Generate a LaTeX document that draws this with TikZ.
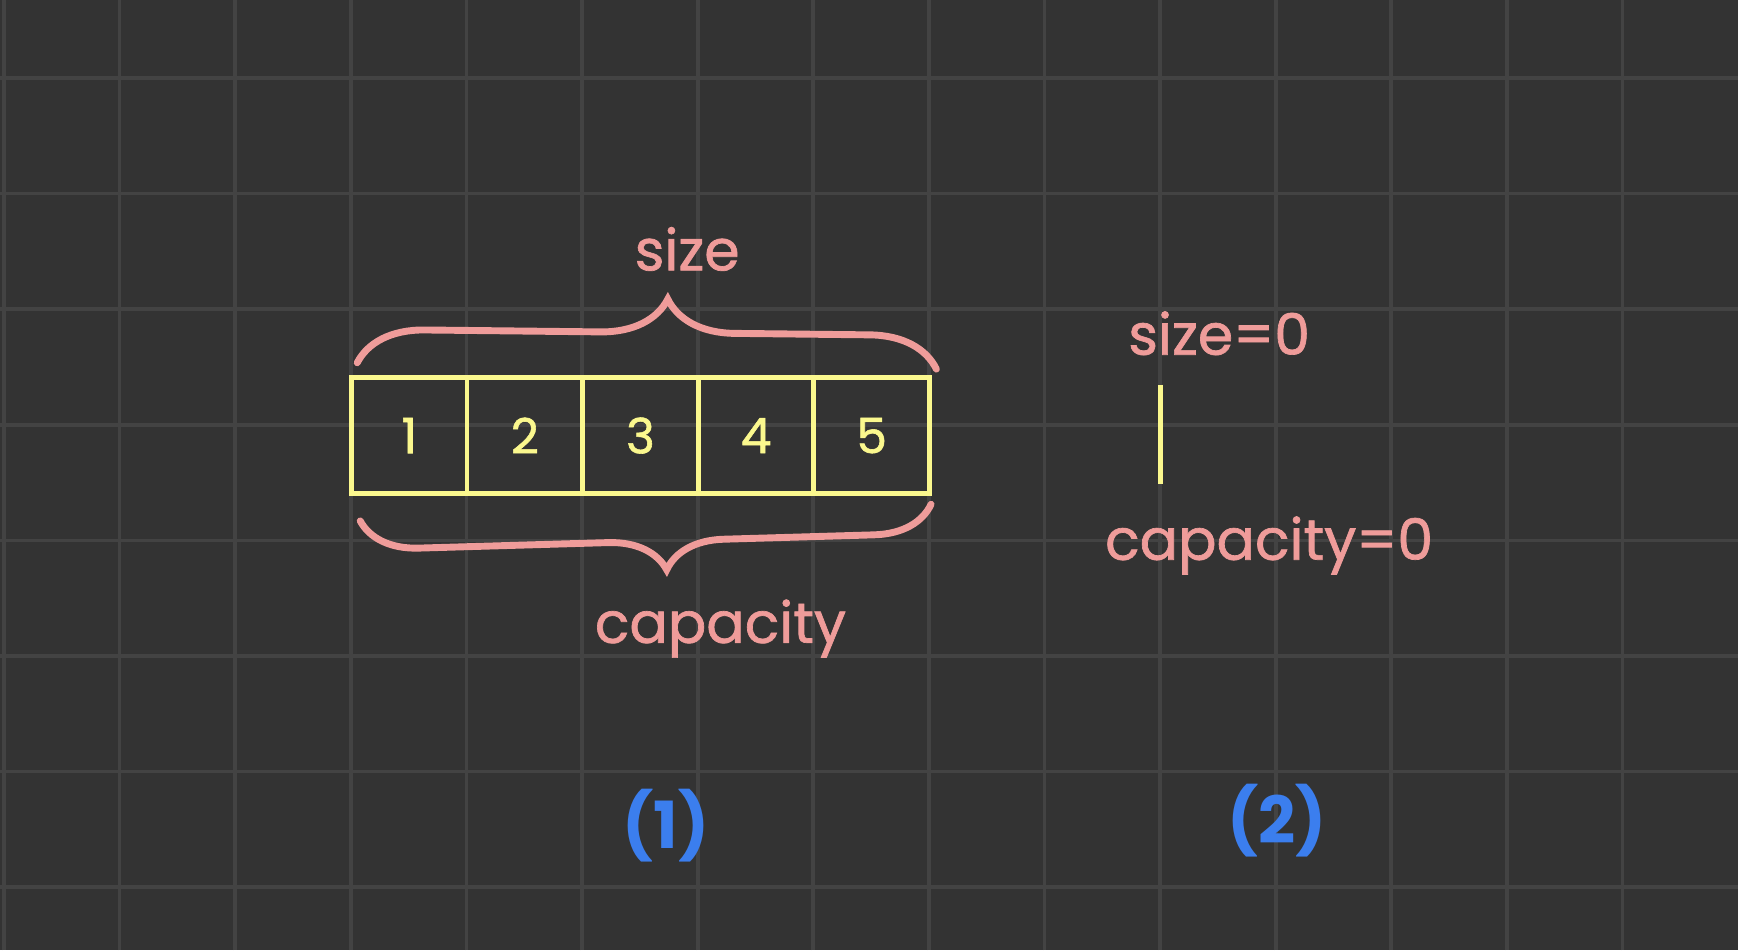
\documentclass[tikz,border=0pt]{standalone}
\usepackage{fontspec}
\setmainfont{Poppins}
\newfontfamily\handfont[FakeBold=1.2]{Poppins}
\usetikzlibrary{positioning}
\usetikzlibrary{decorations.pathreplacing}
\definecolor{board-bg}{HTML}{333333}
\definecolor{board-grid}{HTML}{434343}
\definecolor{chalk-yellow}{HTML}{FBF88E}
\definecolor{chalk-pink}{HTML}{EF9C9A}
\definecolor{chalk-blue}{HTML}{3B7EEE}

\begin{document}
\begin{tikzpicture}[
  gridline/.style={draw=board-grid, line width=0.9pt},
  cellbox/.style={draw=chalk-yellow, line width=1.2pt, minimum width=1cm, minimum height=1cm,
    inner sep=0pt, outer sep=0pt, text=chalk-yellow, font=\handfont\fontsize{12}{14}\selectfont},
  curly/.style={draw=chalk-pink, line width=1.7pt, line cap=round, decorate},
  pinktext/.style={text=chalk-pink, inner sep=0pt, anchor=base, font=\handfont\fontsize{14}{16}\selectfont},
  tagtext/.style={text=chalk-blue, inner sep=0pt, font=\fontsize{16}{18}\selectfont\bfseries}]
% board
\fill[board-bg] (0,0) rectangle (15.034,8.218);
\useasboundingbox (0,0) rectangle (15.034,8.218);
\foreach \gx in {0,...,14}
  \draw[gridline] (\gx+0.035,0) -- (\gx+0.035,8.218);
\foreach \gy in {0,...,7}
  \draw[gridline] (0,\gy+0.543) -- (15.034,\gy+0.543);
% (1) array of five
\foreach \i in {1,...,5} {
  \node[cellbox]
    (cell-\i)
    at (2.54+\i, 4.45)
    {\raisebox{-0.5ex}{\i}};
}
\draw[curly, decoration={brace, amplitude=0.58cm, aspect=0.535}]
  ([shift={(0.05,0.13)}]cell-1.north west) -- ([shift={(0.06,0.075)}]cell-5.north east);
\draw[curly, decoration={brace, amplitude=0.5cm, aspect=0.534, mirror}]
  ([shift={(0.076,-0.238)}]cell-1.south west) -- ([shift={(0.014,-0.094)}]cell-5.south east);
\node[pinktext] (size-lbl) at (5.944, 5.879) {size};
\node[pinktext] (cap-lbl) at (6.232, 2.657) {capacity};
\node[tagtext] (tag-1) at (5.762, 1.075) {(1)};
% (2) empty array
\coordinate (empty-top) at (10.038, 4.89);
\coordinate (empty-bot) at (10.038, 4.03);
\draw[chalk-yellow, line width=1.2pt] (empty-top) -- (empty-bot);
\node[pinktext] (size-zero) at (10.546, 5.15) {size=0};
\node[pinktext] (cap-zero) at (10.978, 3.376) {capacity=0};
\node[tagtext] (tag-2) at (11.045, 1.123) {(2)};
\end{tikzpicture}
\end{document}
